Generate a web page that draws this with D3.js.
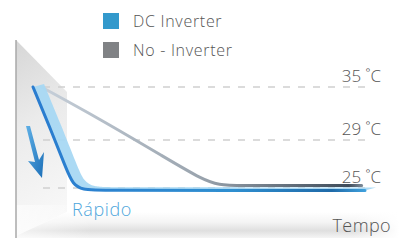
<!DOCTYPE html>
<html>
<head>
<meta charset="utf-8">
<script src="https://cdn.jsdelivr.net/npm/d3@7"></script>
<style>
  body { margin: 0; background: #fff; }
  svg { display: block; font-family: "Open Sans", Lato, sans-serif; }
</style>
</head>
<body>
<svg id="chart"></svg>
<script>
// data
const legendLabels = ["DC Inverter", "No - Inverter"];
const legendColors = ["#3399cc", "#808285"];
const tempTicks = [35, 29, 25];
// time (0-100) vs temperature
const dcInverter = [
  { t: 0, v: 35 }, { t: 5, v: 30.5 }, { t: 10, v: 26.6 }, { t: 12, v: 25.3 },
  { t: 15, v: 24.85 }, { t: 20, v: 24.8 }, { t: 60, v: 24.8 }, { t: 100, v: 24.8 }
];
const noInverter = [
  { t: 2.5, v: 35 }, { t: 20, v: 31.4 }, { t: 40, v: 27.5 }, { t: 51, v: 25.7 },
  { t: 56, v: 25.25 }, { t: 62, v: 25.2 }, { t: 80, v: 25.2 }, { t: 99, v: 25.2 }
];

const svg = d3.select("#chart"),
    width = 399,
    height = 240;
svg.attr("width", width).attr("height", height);

const x = d3.scaleLinear().domain([0, 100]).range([33, 365]);
const y = d3.scaleLinear().domain([25, 29, 35]).range([188, 140, 87]);

const defs = svg.append("defs");

// background wall + floor
const wall = defs.append("linearGradient").attr("id", "wall")
    .attr("x1", 0).attr("y1", 0).attr("x2", 0.15).attr("y2", 1);
wall.append("stop").attr("offset", "0%").attr("stop-color", "#d6d6d6");
wall.append("stop").attr("offset", "45%").attr("stop-color", "#ebebeb");
wall.append("stop").attr("offset", "100%").attr("stop-color", "#f8f8f8");

const floor = defs.append("linearGradient").attr("id", "floor")
    .attr("x1", 0).attr("y1", 0).attr("x2", 0).attr("y2", 1);
floor.append("stop").attr("offset", "0%").attr("stop-color", "#ffffff");
floor.append("stop").attr("offset", "40%").attr("stop-color", "#f4f4f4");
floor.append("stop").attr("offset", "72%").attr("stop-color", "#dfdfdf");
floor.append("stop").attr("offset", "100%").attr("stop-color", "#f5f5f5");

const floorFade = defs.append("linearGradient").attr("id", "floorFade");
floorFade.append("stop").attr("offset", "0%").attr("stop-color", "#fff").attr("stop-opacity", 0.6);
floorFade.append("stop").attr("offset", "20%").attr("stop-color", "#fff").attr("stop-opacity", 0);
floorFade.append("stop").attr("offset", "88%").attr("stop-color", "#fff").attr("stop-opacity", 0);
floorFade.append("stop").attr("offset", "100%").attr("stop-color", "#fff").attr("stop-opacity", 1);

svg.append("path")
    .attr("d", "M16,40 L67,92 L67,212 L16,236 Z")
    .attr("fill", "url(#wall)");
svg.append("path")
    .attr("d", "M16,236 L67,212 L399,212 L399,238 L16,238 Z")
    .attr("fill", "url(#floor)");
svg.append("rect").attr("x", 16).attr("y", 205).attr("width", 383).attr("height", 35)
    .attr("fill", "url(#floorFade)");
svg.append("line").attr("x1", 16).attr("y1", 40).attr("x2", 16).attr("y2", 238)
    .attr("stroke", "#a8a8a8").attr("stroke-width", 1.5);

// gridlines
svg.append("g").selectAll("line")
  .data(tempTicks)
  .join("line")
    .attr("x1", 43).attr("x2", 367)
    .attr("y1", d => y(d)).attr("y2", d => y(d))
    .attr("stroke", "#cfcfcf").attr("stroke-width", 1.5)
    .attr("stroke-dasharray", "7 8");

svg.append("g").selectAll("text")
  .data(tempTicks)
  .join("text")
    .attr("x", 381).attr("y", d => y(d) - 5)
    .attr("text-anchor", "end")
    .attr("font-size", 17).attr("font-weight", 300)
    .attr("fill", "#555")
    .text(d => d + " ˚C");

// no-inverter line
const greyGrad = defs.append("linearGradient").attr("id", "greyGrad")
    .attr("gradientUnits", "userSpaceOnUse")
    .attr("x1", x(0)).attr("x2", x(100)).attr("y1", 0).attr("y2", 0);
greyGrad.append("stop").attr("offset", "0%").attr("stop-color", "#c9d2dc");
greyGrad.append("stop").attr("offset", "50%").attr("stop-color", "#9aa4ae");
greyGrad.append("stop").attr("offset", "95%").attr("stop-color", "#3f4c5a");
greyGrad.append("stop").attr("offset", "100%").attr("stop-color", "#8896a4");

const line = d3.line().x(d => x(d.t)).y(d => y(d.v)).curve(d3.curveBasis);

svg.append("path")
    .datum(noInverter)
    .attr("d", line)
    .attr("fill", "none")
    .attr("stroke", "url(#greyGrad)")
    .attr("stroke-width", 3)
    .attr("stroke-linecap", "round");

// dc inverter ribbon
const ribbon = d3.area()
    .x0(d => x(d.t)).y0(d => y(d.v))
    .x1(d => x(d.t) + 11).y1(d => y(d.v) - 3)
    .curve(d3.curveBasis);

svg.append("path")
    .datum(dcInverter)
    .attr("d", ribbon)
    .attr("fill", "#a8d8f3")
    .attr("opacity", 0.95);

const blueGrad = defs.append("linearGradient").attr("id", "blueGrad")
    .attr("gradientUnits", "userSpaceOnUse")
    .attr("x1", x(0)).attr("x2", x(100)).attr("y1", 0).attr("y2", 0);
blueGrad.append("stop").attr("offset", "0%").attr("stop-color", "#2a7ccf");
blueGrad.append("stop").attr("offset", "60%").attr("stop-color", "#2f8fd0");
blueGrad.append("stop").attr("offset", "90%").attr("stop-color", "#1f6aa8");
blueGrad.append("stop").attr("offset", "100%").attr("stop-color", "#3fa0dc");

svg.append("path")
    .datum(dcInverter)
    .attr("d", line)
    .attr("fill", "none")
    .attr("stroke", "url(#blueGrad)")
    .attr("stroke-width", 3)
    .attr("stroke-linecap", "round");

// arrow
const arrowGrad = defs.append("linearGradient").attr("id", "arrowGrad")
    .attr("x1", 0).attr("y1", 0).attr("x2", 1).attr("y2", 1);
arrowGrad.append("stop").attr("offset", "0%").attr("stop-color", "#5fb0e6");
arrowGrad.append("stop").attr("offset", "100%").attr("stop-color", "#1c6fb8");

svg.append("path")
    .attr("d", "M26,126 L30,126 L39,160 L44,152 L42,178 L28,161 L35,162 Z")
    .attr("fill", "url(#arrowGrad)");

svg.append("text")
    .attr("x", 72).attr("y", 216)
    .attr("font-size", 18).attr("font-weight", 300)
    .attr("letter-spacing", 0.6)
    .attr("fill", "#4ea6dc")
    .text("Rápido");

svg.append("text")
    .attr("x", 391).attr("y", 232)
    .attr("text-anchor", "end")
    .attr("font-size", 18).attr("font-weight", 300)
    .attr("letter-spacing", 0.4)
    .attr("fill", "#555")
    .text("Tempo");

// legend
const legend = svg.append("g").selectAll("g")
  .data(legendLabels)
  .join("g")
    .attr("transform", (d, i) => `translate(103,${13 + i * 29})`);
legend.append("rect")
    .attr("width", 16).attr("height", 16)
    .attr("fill", (d, i) => legendColors[i]);
legend.append("text")
    .attr("x", 30).attr("y", 13.5)
    .attr("font-size", 16).attr("font-weight", 300)
    .attr("letter-spacing", 0.7)
    .attr("fill", "#555")
    .text(d => d);
</script>
</body>
</html>
